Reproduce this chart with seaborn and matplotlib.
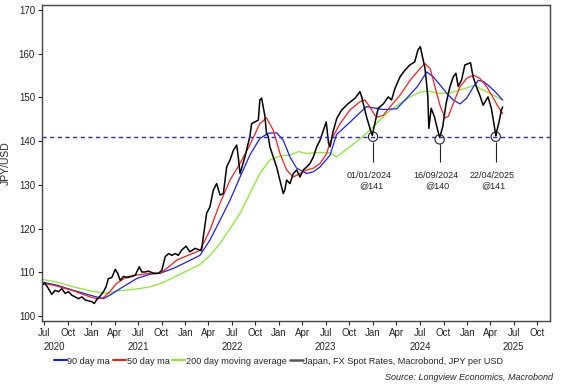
import matplotlib
matplotlib.use('Agg')
import matplotlib.pyplot as plt
import matplotlib.transforms as mtransforms
from matplotlib.lines import Line2D
import seaborn as sns
import pandas as pd

# JPY per USD spot
spot_dates = ['2020-06-23', '2020-07-05', '2020-07-18', '2020-07-31', '2020-08-13', '2020-08-26',
              '2020-09-08', '2020-09-21', '2020-10-04', '2020-10-17', '2020-10-30', '2020-11-12',
              '2020-11-25', '2020-12-08', '2020-12-21', '2021-01-03', '2021-01-12', '2021-01-22',
              '2021-02-04', '2021-02-17', '2021-02-27', '2021-03-08', '2021-03-21', '2021-04-04',
              '2021-04-13', '2021-04-23', '2021-05-06', '2021-05-19', '2021-06-08', '2021-06-21',
              '2021-07-06', '2021-07-16', '2021-07-29', '2021-08-11', '2021-08-31', '2021-09-19',
              '2021-10-02', '2021-10-15', '2021-10-28', '2021-11-10', '2021-11-23', '2021-12-05',
              '2021-12-18', '2022-01-04', '2022-01-19', '2022-02-08', '2022-02-26', '2022-03-05',
              '2022-03-12', '2022-03-25', '2022-04-07', '2022-04-20', '2022-05-03', '2022-05-16',
              '2022-05-29', '2022-06-11', '2022-06-24', '2022-07-07', '2022-07-20', '2022-07-26',
              '2022-08-02', '2022-08-08', '2022-08-21', '2022-09-09', '2022-09-16', '2022-09-29',
              '2022-10-12', '2022-10-18', '2022-10-25', '2022-10-31', '2022-11-06', '2022-11-13',
              '2022-11-20', '2022-11-26', '2022-12-09', '2022-12-22', '2023-01-04', '2023-01-17',
              '2023-01-23', '2023-01-30', '2023-02-12', '2023-02-25', '2023-03-10', '2023-03-23',
              '2023-04-05', '2023-04-18', '2023-05-01', '2023-05-14', '2023-05-27', '2023-06-09',
              '2023-06-22', '2023-07-03', '2023-07-12', '2023-07-18', '2023-07-29', '2023-08-13',
              '2023-09-01', '2023-09-27', '2023-10-23', '2023-11-11', '2023-11-18', '2023-11-24',
              '2023-12-07', '2023-12-20', '2023-12-29', '2024-01-08', '2024-01-21', '2024-02-10',
              '2024-02-29', '2024-03-13', '2024-03-26', '2024-04-15', '2024-05-04', '2024-05-23',
              '2024-06-11', '2024-06-24', '2024-07-03', '2024-07-11', '2024-07-20', '2024-07-26',
              '2024-08-01', '2024-08-05', '2024-08-14', '2024-08-27', '2024-09-05', '2024-09-16',
              '2024-09-28', '2024-10-11', '2024-10-26', '2024-11-08', '2024-11-18', '2024-11-27',
              '2024-12-10', '2024-12-23', '2025-01-05', '2025-01-14', '2025-01-24', '2025-02-06',
              '2025-02-19', '2025-03-04', '2025-03-23', '2025-04-05', '2025-04-18', '2025-04-22',
              '2025-04-25', '2025-05-05', '2025-05-14', '2025-05-19']
spot_vals = [107.1, 107.5, 106.3, 105.0, 105.9, 105.6,
             106.3, 105.2, 105.6, 104.8, 104.4, 104.0,
             104.4, 103.7, 103.5, 103.3, 102.9, 103.8,
             104.6, 105.6, 106.7, 108.6, 108.8, 110.7,
             109.8, 108.2, 109.1, 108.8, 109.1, 109.4,
             111.3, 110.1, 110.1, 110.3, 109.8, 109.8,
             110.5, 113.6, 114.3, 113.9, 114.3, 113.9,
             115.1, 116.0, 114.7, 115.5, 115.1, 115.0,
             118.1, 123.5, 125.0, 128.8, 130.3, 127.7,
             128.0, 134.1, 135.7, 137.9, 139.1, 136.4,
             132.6, 133.8, 136.4, 141.0, 144.0, 144.4,
             144.8, 149.4, 149.8, 147.8, 145.9, 141.8,
             141.0, 138.7, 136.4, 134.1, 131.1, 128.0,
             128.8, 131.1, 130.3, 132.6, 133.4, 131.8,
             133.4, 134.1, 134.9, 136.4, 138.7, 140.2,
             142.5, 144.4, 139.5, 138.7, 142.0, 145.2,
             147.1, 148.6, 149.8, 151.3, 150.1, 148.6,
             145.5, 142.9, 141.3, 144.0, 147.5, 148.5,
             150.1, 149.4, 152.0, 154.7, 156.2, 157.4,
             158.1, 160.9, 161.6, 159.3, 157.0, 153.9,
             150.1, 142.9, 147.5, 145.5, 143.3, 140.8,
             143.3, 148.6, 152.4, 154.7, 155.5, 152.5,
             153.9, 157.4, 157.7, 157.9, 154.7, 152.4,
             150.5, 148.2, 150.1, 147.5, 142.9, 141.2,
             142.1, 144.4, 147.1, 147.8]

# 90 day moving average (blue)
ma90_dates = ['2020-06-23', '2020-08-19', '2020-10-23', '2020-12-27', '2021-02-16', '2021-03-14',
              '2021-04-23', '2021-06-26', '2021-08-17', '2021-09-25', '2021-11-15', '2022-01-07',
              '2022-02-27', '2022-04-07', '2022-05-16', '2022-06-24', '2022-08-02', '2022-09-09',
              '2022-10-18', '2022-11-20', '2022-12-22', '2023-01-17', '2023-02-12', '2023-03-10',
              '2023-04-18', '2023-05-14', '2023-06-09', '2023-07-18', '2023-08-12', '2023-10-03',
              '2023-11-11', '2023-12-07', '2024-01-02', '2024-02-10', '2024-04-02', '2024-05-11',
              '2024-06-22', '2024-07-28', '2024-08-22', '2024-09-18', '2024-10-14', '2024-11-08',
              '2024-12-04', '2024-12-30', '2025-01-25', '2025-02-14', '2025-03-05', '2025-03-31',
              '2025-04-26', '2025-05-19']
ma90_vals = [107.8, 107.1, 105.9, 104.8, 104.0, 104.8,
             106.3, 108.6, 109.6, 109.8, 110.9, 112.4,
             113.9, 117.4, 121.9, 126.5, 131.8, 136.8,
             140.6, 141.8, 141.9, 140.2, 136.4, 133.8,
             132.6, 133.0, 134.1, 136.8, 141.5, 144.3,
             146.5, 147.9, 147.6, 147.2, 147.4, 149.8,
             152.5, 155.8, 154.7, 152.8, 150.9, 149.4,
             148.5, 149.8, 152.4, 153.9, 153.6, 152.4,
             150.9, 149.4]

# 50 day moving average (red)
ma50_dates = ['2020-06-23', '2020-08-19', '2020-10-23', '2020-12-27', '2021-01-22', '2021-02-16',
              '2021-03-14', '2021-04-09', '2021-05-19', '2021-06-26', '2021-08-17', '2021-09-25',
              '2021-10-21', '2021-11-29', '2022-01-07', '2022-02-27', '2022-04-07', '2022-05-16',
              '2022-06-24', '2022-08-02', '2022-09-09', '2022-10-18', '2022-11-13', '2022-12-09',
              '2023-01-04', '2023-01-30', '2023-02-25', '2023-03-23', '2023-04-18', '2023-05-14',
              '2023-06-09', '2023-07-05', '2023-07-18', '2023-08-26', '2023-10-03', '2023-11-11',
              '2023-11-30', '2023-12-20', '2024-01-08', '2024-01-21', '2024-02-10', '2024-03-07',
              '2024-04-15', '2024-05-24', '2024-07-02', '2024-07-21', '2024-08-10', '2024-08-29',
              '2024-09-18', '2024-10-07', '2024-10-20', '2024-11-08', '2024-12-04', '2024-12-30',
              '2025-01-25', '2025-02-20', '2025-03-18', '2025-04-13', '2025-05-02', '2025-05-19']
ma50_vals = [107.6, 106.9, 105.8, 104.4, 104.0, 104.2,
             105.6, 107.5, 109.0, 109.4, 109.8, 109.8,
             110.9, 112.8, 113.8, 115.0, 119.7, 125.8,
             131.1, 134.9, 139.1, 144.0, 145.3, 142.5,
             137.2, 133.4, 131.8, 132.6, 133.4, 133.8,
             134.9, 137.2, 139.8, 144.0, 147.1, 149.0,
             149.4, 147.8, 145.9, 145.5, 145.9, 147.8,
             150.5, 153.9, 156.6, 157.7, 156.6, 152.4,
             148.0, 145.3, 145.7, 148.6, 152.4, 154.3,
             155.1, 154.3, 152.4, 149.8, 147.8, 146.3]

# 200 day moving average (green)
ma200_dates = ['2020-06-23', '2020-08-19', '2020-10-23', '2020-12-27', '2021-02-16', '2021-03-14',
               '2021-04-09', '2021-06-13', '2021-08-17', '2021-10-08', '2021-12-12', '2022-02-27',
               '2022-04-07', '2022-05-16', '2022-06-24', '2022-08-02', '2022-09-09', '2022-10-18',
               '2022-11-26', '2023-01-04', '2023-02-12', '2023-03-17', '2023-04-18', '2023-06-09',
               '2023-07-18', '2023-08-12', '2023-10-03', '2023-11-11', '2023-12-07', '2024-01-28',
               '2024-03-07', '2024-04-15', '2024-05-24', '2024-07-02', '2024-07-28', '2024-08-22',
               '2024-09-18', '2024-10-27', '2024-12-04', '2025-01-12', '2025-02-01', '2025-02-20',
               '2025-03-31', '2025-05-19']
ma200_vals = [108.4, 107.8, 106.7, 105.8, 105.3, 105.3,
              105.8, 106.1, 106.7, 107.7, 109.6, 111.8,
              113.9, 116.6, 120.0, 123.5, 128.0, 132.6,
              135.7, 136.6, 136.8, 137.6, 137.2, 137.4,
              137.3, 136.4, 138.7, 140.5, 141.8, 144.8,
              147.0, 148.6, 150.1, 151.2, 151.4, 151.2,
              150.9, 151.0, 151.7, 152.4, 152.8, 152.0,
              150.9, 149.4]

support_level = 141
marker_dates = ['2024-01-01', '2024-09-16', '2025-04-22']
marker_levels = [141, 140.4, 141]
marker_labels = ['01/01/2024', '16/09/2024', '22/04/2025']
marker_values = ['@141', '@140', '@141']

spot = pd.DataFrame({'date': pd.to_datetime(spot_dates), 'value': spot_vals})
ma90 = pd.DataFrame({'date': pd.to_datetime(ma90_dates), 'value': ma90_vals})
ma50 = pd.DataFrame({'date': pd.to_datetime(ma50_dates), 'value': ma50_vals})
ma200 = pd.DataFrame({'date': pd.to_datetime(ma200_dates), 'value': ma200_vals})
marks = pd.DataFrame({'date': pd.to_datetime(marker_dates), 'level': marker_levels})

sns.set_style('ticks')
plt.rcParams['font.family'] = ['Liberation Sans', 'DejaVu Sans']
plt.rcParams['font.size'] = 7

fig = plt.figure(figsize=(5.63, 3.92), dpi=100)
ax = fig.add_axes([42 / 563, 1 - 321 / 392, 508 / 563, 316 / 392])

blue, red, green = '#1a1aff', '#ff1a1a', '#80f020'
sns.lineplot(data=ma200, x='date', y='value', ax=ax, color=green, lw=0.9)
sns.lineplot(data=ma90, x='date', y='value', ax=ax, color=blue, lw=0.9)
sns.lineplot(data=ma50, x='date', y='value', ax=ax, color=red, lw=0.9)
sns.lineplot(data=spot, x='date', y='value', ax=ax, color='black', lw=1.1)

ax.axhline(support_level, color='#2828d8', lw=1.0, ls=(0, (3, 2.5)))

# circled lows with leader lines and labels
ax.scatter(marks['date'], marks['level'], s=45, facecolors='none', edgecolors='#222222', lw=0.8, zorder=5)
ax.vlines(marks['date'], 135.3, marks['level'] - 1.1, color='#222222', lw=0.8)
for d, lab, val in zip(marks['date'], marker_labels, marker_values):
    ax.text(d - pd.Timedelta(days=16), 132.1, lab, ha='center', va='center', fontsize=6.5, color='#222222')
    ax.text(d - pd.Timedelta(days=8), 129.9, val, ha='center', va='center', fontsize=6.5, color='#222222')

ax.set_xlim(pd.Timestamp('2020-06-23'), pd.Timestamp('2025-11-19'))
ax.set_ylim(98.9, 171.1)
ax.set_yticks(range(100, 171, 10))

ticks = pd.date_range('2020-07-01', '2025-10-01', freq='QS-JAN')
ax.set_xticks(ticks)
ax.set_xticklabels([t.strftime('%b') for t in ticks])
trans = mtransforms.blended_transform_factory(ax.transData, ax.transAxes)
for t in ticks[ticks.month == 7]:
    ax.text(t, -0.065, str(t.year), transform=trans, ha='left' if t.year == 2020 else 'center',
            va='top', fontsize=7)

ax.tick_params(axis='both', direction='out', length=3, width=0.8, labelsize=7, pad=2, colors='#222222')
ax.set_xlabel('')
ax.set_ylabel('JPY/USD', fontsize=7.5, labelpad=6)
for s in ax.spines.values():
    s.set_color('#444444')
    s.set_linewidth(1.0)

handles = [Line2D([], [], color=blue, lw=1.5), Line2D([], [], color=red, lw=1.5),
           Line2D([], [], color=green, lw=1.5), Line2D([], [], color='#555555', lw=1.8)]
labels = ['90 day ma', '50 day ma', '200 day moving average',
          'Japan, FX Spot Rates, Macrobond, JPY per USD']
fig.legend(handles, labels, loc='center', bbox_to_anchor=(0.495, 1 - 361 / 392), ncol=4,
           frameon=False, fontsize=6.6, handlelength=1.4, handletextpad=0.1, columnspacing=0.3)

fig.text(553 / 563, 1 - 378 / 392, 'Source: Longview Economics, Macrobond', ha='right', va='center',
         fontsize=6.5, style='italic')

fig.savefig('out.png', dpi=100)
